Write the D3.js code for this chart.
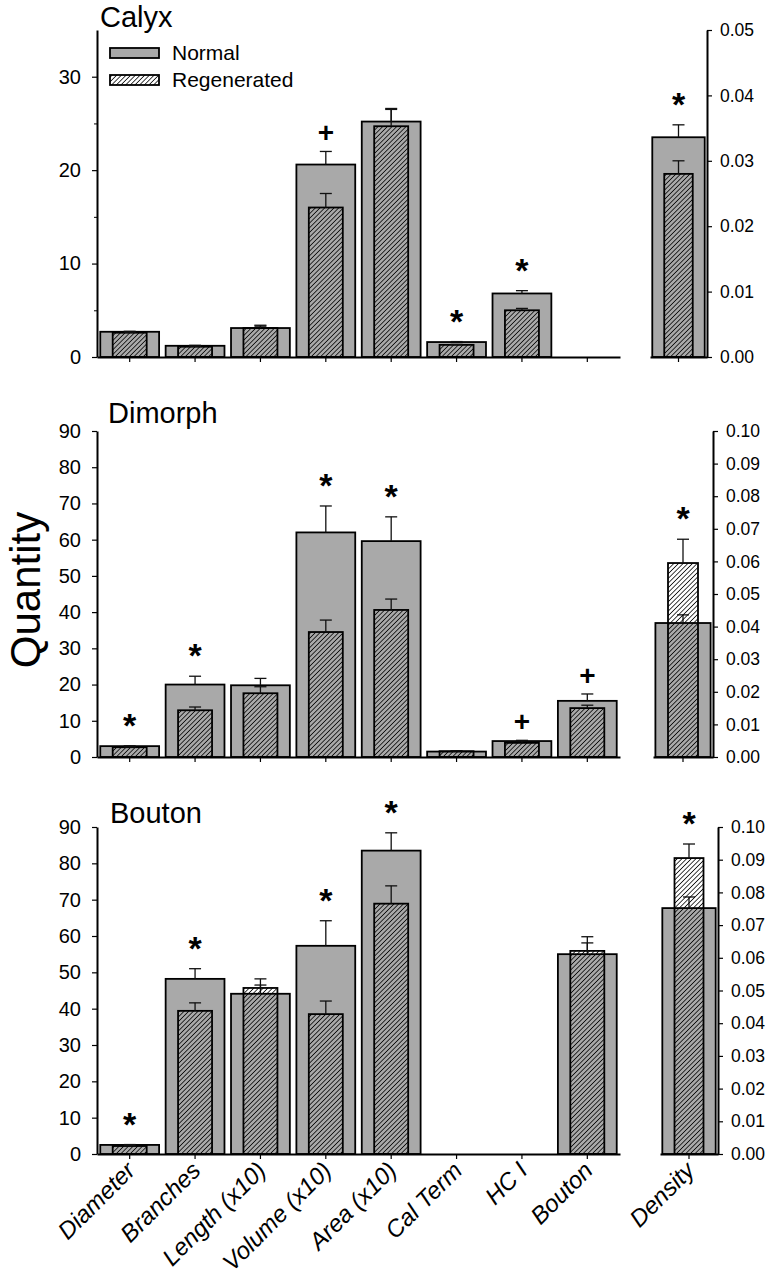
<!DOCTYPE html>
<html><head><meta charset="utf-8">
<script src="https://cdn.jsdelivr.net/npm/d3@7"></script>
<style>
body{margin:0;background:#fff}
svg{display:block}
text{font-family:"Liberation Sans",Arial,Helvetica,sans-serif;fill:#000}
</style>
</head><body>
<svg id="chart" width="766" height="1280"></svg>
<script>
// ---------------- DATA ----------------
const categories = ["Diameter","Branches","Length (x10)","Volume (x10)","Area (x10)","Cal Term","HC I","Bouton"];
const densityCategory = ["Density"];
const seriesNames = ["Normal","Regenerated"];
const panelTitles = ["Calyx","Dimorph","Bouton"];
const yAxisTitle = "Quantity";

// Calyx
const calyxNormal    = [2.7, 1.2, 3.1, 20.6, 25.2, 1.6, 6.8, null];
const calyxNormalErr = [0.05, 0.05, 0.2, 1.4, 1.4, 0.05, 0.3, null];
const calyxRegen     = [2.6, 1.1, 3.1, 16.0, 24.7, 1.3, 5.0, null];
const calyxRegenErr  = [0.05, 0.05, 0.3, 1.5, 1.8, 0.05, 0.2, null];
const calyxMarks     = ["", "", "", "+", "", "*", "*", ""];
const calyxDensity    = [0.0336, 0.0280];   // normal, regenerated
const calyxDensityErr = [0.0019, 0.0020];
const calyxDensityMark = "*";

// Dimorph
const dimorphNormal    = [3.0, 20.0, 19.8, 62.0, 59.6, 1.5, 4.4, 15.5];
const dimorphNormalErr = [0.1, 2.3, 1.9, 7.3, 6.7, 0.1, 0.2, 1.9];
const dimorphRegen     = [2.7, 12.9, 17.6, 34.5, 40.6, 1.6, 3.9, 13.5];
const dimorphRegenErr  = [0.1, 0.9, 1.8, 3.3, 3.0, 0.1, 0.6, 0.8];
const dimorphMarks     = ["*", "*", "", "*", "*", "", "+", "+"];
const dimorphDensity    = [0.0411, 0.0595];
const dimorphDensityErr = [0.0025, 0.0073];
const dimorphDensityMark = "*";

// Bouton
const boutonNormal    = [2.5, 48.2, 44.1, 57.3, 83.5, null, null, 55.0];
const boutonNormalErr = [0.1, 2.8, 2.4, 6.9, 4.9, null, null, 3.1];
const boutonRegen     = [2.2, 39.4, 45.7, 38.5, 68.9, null, null, 55.9];
const boutonRegenErr  = [0.1, 2.2, 2.5, 3.6, 4.9, null, null, 3.9];
const boutonMarks     = ["*", "*", "", "*", "*", "", "", ""];
const boutonDensity    = [0.0752, 0.0905];
const boutonDensityErr = [0.0034, 0.0043];
const boutonDensityMark = "*";

// Tick values
const calyxLeftTicks  = [0, 10, 20, 30];
const calyxMinorTicks = [5, 15, 25];
const leftTicks90     = [0, 10, 20, 30, 40, 50, 60, 70, 80, 90];
const rightTicks05    = [0.00, 0.01, 0.02, 0.03, 0.04, 0.05];
const rightTicks10    = [0.00, 0.01, 0.02, 0.03, 0.04, 0.05, 0.06, 0.07, 0.08, 0.09, 0.10];

// ---------------- LAYOUT ----------------
const GREY = "#a9a9a9";
const svg = d3.select("#chart");

const defs = svg.append("defs");
const pat = defs.append("pattern").attr("id","hatch")
  .attr("patternUnits","userSpaceOnUse").attr("width",3.3).attr("height",3.3)
  .attr("patternTransform","rotate(45)");
pat.append("line").attr("x1",0).attr("y1",0).attr("x2",0).attr("y2",3.3)
  .attr("stroke","#000").attr("stroke-width",1.5);

const panels = [
  {title: panelTitles[0], normal: calyxNormal, normalErr: calyxNormalErr, regen: calyxRegen, regenErr: calyxRegenErr, marks: calyxMarks,
   dens: calyxDensity, densErr: calyxDensityErr, densMark: calyxDensityMark,
   lmax: 35, lticks: calyxLeftTicks, lminor: calyxMinorTicks, rmax: 0.05, rticks: rightTicks05,
   zero: 357, top: 30, dx0: 650, dx1: 707, tx: 100, ty: 27, labels: false},
  {title: panelTitles[1], normal: dimorphNormal, normalErr: dimorphNormalErr, regen: dimorphRegen, regenErr: dimorphRegenErr, marks: dimorphMarks,
   dens: dimorphDensity, densErr: dimorphDensityErr, densMark: dimorphDensityMark,
   lmax: 90, lticks: leftTicks90, lminor: [], rmax: 0.10, rticks: rightTicks10,
   zero: 757, top: 431, dx0: 653, dx1: 713, tx: 108, ty: 423, labels: false},
  {title: panelTitles[2], normal: boutonNormal, normalErr: boutonNormalErr, regen: boutonRegen, regenErr: boutonRegenErr, marks: boutonMarks,
   dens: boutonDensity, densErr: boutonDensityErr, densMark: boutonDensityMark,
   lmax: 90, lticks: leftTicks90, lminor: [], rmax: 0.10, rticks: rightTicks10,
   zero: 1154, top: 827, dx0: 660, dx1: 718, tx: 110, ty: 823, labels: true}
];

const X0 = 97, X1 = 620;
const x = d3.scaleBand().domain(categories).range([X0, X1]).padding(0);
const NW = 0.9, RW = 0.52;      // bar width fractions (main)
const DNW = 0.92, DRW = 0.5;    // bar width fractions (density)
const CAP = 6;

function errBar(g, cx, yTopPx, yErrPx) {
  g.append("line").attr("x1",cx).attr("x2",cx).attr("y1",yTopPx).attr("y2",yErrPx)
    .attr("stroke","#111").attr("stroke-width",1.3);
  g.append("line").attr("x1",cx-CAP).attr("x2",cx+CAP).attr("y1",yErrPx).attr("y2",yErrPx)
    .attr("stroke","#111").attr("stroke-width",1.3);
}
function mark(g, cx, yPx, m) {
  if (!m) return;
  g.append("text").attr("x",cx).attr("y",yPx - 9).attr("text-anchor","middle")
    .attr("font-weight","bold").attr("font-size", m === "*" ? 34 : 28).text(m);
}

panels.forEach(p => {
  const g = svg.append("g");
  const y = d3.scaleLinear().domain([0, p.lmax]).range([p.zero, p.top]);
  const yd = d3.scaleLinear().domain([0, p.rmax]).range([p.zero, p.top]);
  const xd = d3.scaleBand().domain(densityCategory).range([p.dx0, p.dx1]).padding(0);

  // title
  g.append("text").attr("x",p.tx).attr("y",p.ty).attr("font-size",29).text(p.title);

  // main bars
  const bw = x.bandwidth();
  categories.forEach((c, i) => {
    const cx = x(c) + bw/2;
    if (p.normal[i] != null) {
      g.append("rect").attr("x",cx - bw*NW/2).attr("width",bw*NW)
        .attr("y",y(p.normal[i])).attr("height",y(0)-y(p.normal[i]))
        .attr("fill",GREY).attr("stroke","#000").attr("stroke-width",1.8);
      errBar(g, cx, y(p.normal[i]), y(p.normal[i]+p.normalErr[i]));
    }
    if (p.regen[i] != null) {
      g.append("rect").attr("x",cx - bw*RW/2).attr("width",bw*RW)
        .attr("y",y(p.regen[i])).attr("height",y(0)-y(p.regen[i]))
        .attr("fill","url(#hatch)").attr("stroke","#000").attr("stroke-width",1.8);
      errBar(g, cx, y(p.regen[i]), y(p.regen[i]+p.regenErr[i]));
    }
    if (p.marks[i]) {
      const topV = Math.max(p.normal[i]+p.normalErr[i], p.regen[i]+p.regenErr[i]);
      mark(g, cx, y(topV), p.marks[i]);
    }
  });

  // density bars
  const dbw = xd.bandwidth();
  const dcx = xd(densityCategory[0]) + dbw/2;
  g.append("rect").attr("x",dcx - dbw*DNW/2).attr("width",dbw*DNW)
    .attr("y",yd(p.dens[0])).attr("height",yd(0)-yd(p.dens[0]))
    .attr("fill",GREY).attr("stroke","#000").attr("stroke-width",1.8);
  errBar(g, dcx, yd(p.dens[0]), yd(p.dens[0]+p.densErr[0]));
  g.append("rect").attr("x",dcx - dbw*DRW/2).attr("width",dbw*DRW)
    .attr("y",yd(p.dens[1])).attr("height",yd(0)-yd(p.dens[1]))
    .attr("fill","url(#hatch)").attr("stroke","#000").attr("stroke-width",1.8);
  errBar(g, dcx, yd(p.dens[1]), yd(p.dens[1]+p.densErr[1]));
  mark(g, dcx, yd(Math.max(p.dens[0]+p.densErr[0], p.dens[1]+p.densErr[1])), p.densMark);

  // axes
  const la = g.append("g").attr("transform",`translate(${X0},0)`)
    .call(d3.axisLeft(y).tickValues(p.lticks).tickSize(5).tickSizeOuter(0).tickPadding(11).tickFormat(d3.format("d")));
  if (p.lminor.length) {
    g.append("g").attr("transform",`translate(${X0},0)`)
      .call(d3.axisLeft(y).tickValues(p.lminor).tickSize(3).tickSizeOuter(0).tickFormat(""))
      .select(".domain").remove();
  }
  const ra = g.append("g").attr("transform",`translate(${p.dx1},0)`)
    .call(d3.axisRight(yd).tickValues(p.rticks).tickSize(5).tickSizeOuter(0).tickPadding(8).tickFormat(d3.format(".2f")));
  const ba = g.append("g").attr("transform",`translate(0,${p.zero})`)
    .call(d3.axisBottom(x).tickSize(5).tickSizeOuter(0).tickFormat(""));
  const bd = g.append("g").attr("transform",`translate(0,${p.zero})`)
    .call(d3.axisBottom(xd).tickSize(5).tickSizeOuter(0).tickFormat(""));

  [la, ra, ba, bd].forEach(a => {
    a.select(".domain").attr("stroke","#000").attr("stroke-width",2);
    a.selectAll(".tick line").attr("stroke","#000").attr("stroke-width",1.2);
  });
  la.selectAll("text").attr("font-size",20).attr("fill","#000");
  ra.selectAll("text").attr("font-size",17.5).attr("fill","#000");

  if (p.labels) {
    const lab = (name, cx) => {
      const px = cx + 7, py = p.zero + 18;
      g.append("text")
        .attr("transform", `rotate(-45 ${px} ${py})`)
        .attr("x", px).attr("y", py)
        .attr("text-anchor","end").attr("font-size",24).attr("font-style","italic")
        .text(name);
    };
    categories.forEach(c => lab(c, x(c) + x.bandwidth()/2));
    lab(densityCategory[0], dcx);
  }
});

// legend (top panel)
const lg = svg.append("g");
seriesNames.forEach((s, i) => {
  lg.append("rect").attr("x",110).attr("y",48 + i*27).attr("width",49).attr("height",10)
    .attr("fill", i === 0 ? GREY : "url(#hatch)").attr("stroke","#000").attr("stroke-width",1.8);
  lg.append("text").attr("x",172).attr("y",60 + i*27).attr("font-size",21).text(s);
});

// y-axis title
svg.append("text").attr("transform","translate(40,590) rotate(-90)")
  .attr("text-anchor","middle").attr("font-size",42).text(yAxisTitle);
</script>
</body></html>
